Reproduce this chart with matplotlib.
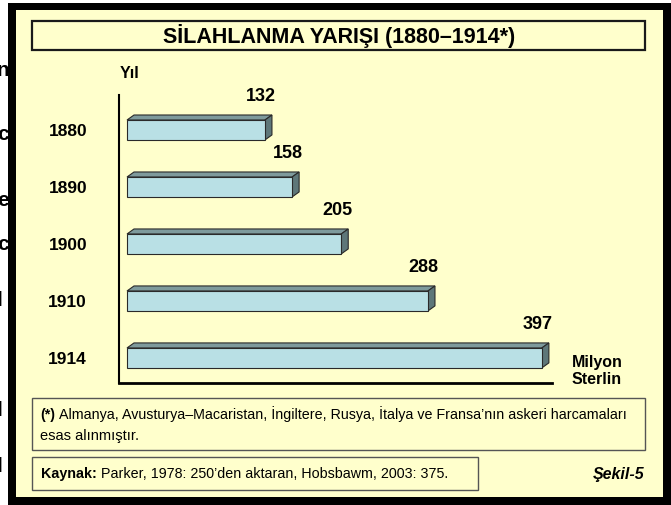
import numpy as np
import matplotlib
matplotlib.use("Agg")
import matplotlib.pyplot as plt
from matplotlib.patches import Rectangle, Polygon

plt.rcParams['font.family'] = ['Liberation Sans', 'DejaVu Sans']

# data
years = ["1880", "1890", "1900", "1910", "1914"]
spending = [132, 158, 205, 288, 397]
title = "SİLAHLANMA YARIŞI (1880–1914*)"
note = "Almanya, Avusturya–Macaristan, İngiltere, Rusya, İtalya ve Fransa’nın askeri harcamaları"
note2 = "esas alınmıştır."
source = "Parker, 1978: 250’den aktaran, Hobsbawm, 2003: 375."

W, H = 671, 505
cream = "#FFFFCC"
front = "#B9E0E5"
top_c = "#7E9A9C"
side_c = "#5E7779"
edge = "#2A2A2A"

fig = plt.figure(figsize=(W / 100, H / 100), dpi=100)
fig.patch.set_facecolor("white")


def fx(x):
    return x / W


def fy(y):
    return 1 - y / H


def box(x0, y0, x1, y1, fc, ec, lw, z):
    r = Rectangle((fx(x0), fy(y1)), fx(x1) - fx(x0), fy(y0) - fy(y1),
                  transform=fig.transFigure, facecolor=fc, edgecolor=ec,
                  linewidth=lw, zorder=z)
    fig.patches.append(r)


# cut-off letters of the page text at the far left (clipped by the frame)
for ch, yy in zip(["n", "c", "e", "c", "l", "l", "l"], [70, 135, 200, 245, 300, 410, 466]):
    fig.text(fx(-3), fy(yy), ch, fontsize=15, fontweight="bold", va="center",
             ha="left", zorder=-3)

# outer frame
box(8, 3, 680, 510, "black", "none", 0, -2)
box(16, 10, 663, 497, cream, "none", 0, -1)

# title box
box(32, 21, 645, 50, cream, "#1A1A1A", 1.6, -0.5)
fig.text(fx(339), fy(36), title, fontsize=15.5, fontweight="bold",
         ha="center", va="center", zorder=2)

# chart
ax = fig.add_axes([fx(119), fy(383), fx(552) - fx(119), fy(95) - fy(383)])
ax.set_facecolor("none")
pos = np.arange(len(years))
bh = 0.35
dx, dy = 6.7, 0.088
ax.barh(pos, spending, height=bh, left=0, color=front, edgecolor=edge,
        linewidth=0.8, zorder=3)
for i, v in zip(pos, spending):
    t = i - bh / 2
    b = i + bh / 2
    ax.add_patch(Polygon([(0, t), (v, t), (v + dx, t - dy), (dx, t - dy)],
                         closed=True, facecolor=top_c, edgecolor=edge,
                         linewidth=0.8, zorder=2))
    ax.add_patch(Polygon([(v, t), (v + dx, t - dy), (v + dx, b - dy), (v, b)],
                         closed=True, facecolor=side_c, edgecolor=edge,
                         linewidth=0.8, zorder=2))
    ax.text(v - 4, i - 0.58, str(v), fontsize=13, fontweight="bold",
            ha="center", va="center")

ax.set_xlim(-7.66, 406.7)
ax.set_ylim(4.44, -0.614)
ax.set_yticks(pos, years, fontsize=12.5, fontweight="bold")
ax.tick_params(axis="y", length=0, pad=23)
ax.set_xticks([])
for s in ["top", "right"]:
    ax.spines[s].set_visible(False)
ax.spines["left"].set_linewidth(1.5)
ax.spines["bottom"].set_linewidth(2)

fig.text(fx(130), fy(74), "Yıl", fontsize=11.5, fontweight="bold",
         ha="center", va="center")
fig.text(fx(572), fy(362), "Milyon", fontsize=11.5, fontweight="bold",
         ha="left", va="center")
fig.text(fx(572), fy(380), "Sterlin", fontsize=11.5, fontweight="bold",
         ha="left", va="center")

# note box
box(32, 398, 645, 450, cream, "#555555", 1, -0.5)
t1 = fig.text(fx(40), fy(419), "(*)", fontsize=10.3, fontweight="bold",
              ha="left", va="baseline", zorder=2)
ax.annotate(note, xy=(1, 0), xycoords=t1, xytext=(3, 0),
            textcoords="offset points", fontsize=10.3, ha="left",
            va="bottom", annotation_clip=False, zorder=2)
fig.text(fx(40), fy(436), note2, fontsize=10.5, ha="left", va="center", zorder=2)

# source box
box(32, 457, 478, 490, cream, "#555555", 1, -0.5)
t2 = fig.text(fx(41), fy(474), "Kaynak:", fontsize=10.3, fontweight="bold",
              ha="left", va="center", zorder=2)
ax.annotate(source, xy=(1, 0), xycoords=t2, xytext=(3, 0),
            textcoords="offset points", fontsize=10.3, ha="left",
            va="bottom", annotation_clip=False, zorder=2)
fig.text(fx(644), fy(474), "Şekil-5", fontsize=11.5, fontweight="bold",
         fontstyle="italic", ha="right", va="center", zorder=2)

fig.savefig("out.png", dpi=100, facecolor=fig.get_facecolor())
